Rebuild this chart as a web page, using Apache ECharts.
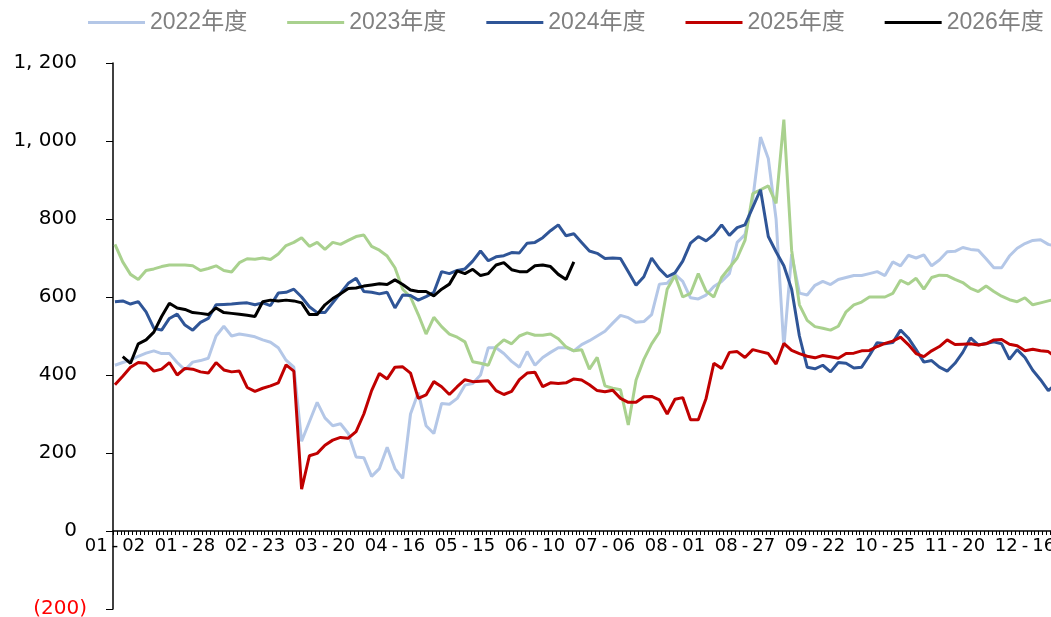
<!DOCTYPE html>
<html>
<head>
<meta charset="utf-8">
<title>年度对比</title>
<script src="https://cdn.jsdelivr.net/npm/echarts@6/dist/echarts.min.js"></script>
<style>
  html, body { margin: 0; padding: 0; background: #fff; }
  #chart { width: 1051px; height: 617px; }
</style>
</head>
<body>
<div id="chart"></div>
<script>
// x 轴刻度标签（每 18 个交易日一个），之后补到年末
var tickLabels = ['01-02', '01-28', '02-23', '03-20', '04-16', '05-15', '06-10',
  '07-06', '08-01', '08-27', '09-22', '10-25', '11-20', '12-16'];
var yearEnd = '12-31';
var STEP = 18;      // 每个标签之间的交易日数
var DAYS = 246;     // 类目总数
// 下面的数值每两个交易日读一个
var y2022 = [425, 432, 438, 448, 456, 462, 455, 455, 432, 413, 433, 437, 443, 500, 525, 500, 505, 502, 498, 490,
  484, 470, 438, 420, 230, 280, 330, 290, 270, 275, 250, 190, 188, 140, 160, 215, 160, 135, 300, 355,
  270, 250, 327, 325, 340, 374, 378, 400, 470, 470, 455, 435, 420, 460, 425, 445, 458, 470, 470, 462,
  478, 488, 500, 512, 533, 553, 547, 535, 537, 555, 633, 635, 658, 640, 598, 595, 605, 627, 640, 660,
  740, 760, 850, 1010, 955, 800, 470, 710, 610, 605, 630, 640, 632, 645, 650, 655, 655, 660, 665, 655,
  690, 680, 707, 700, 708, 680, 695, 716, 717, 727, 722, 720, 698, 675, 675, 705, 725, 737, 745, 747,
  735, 730];
var y2023 = [735, 690, 658, 645, 668, 672, 678, 682, 682, 682, 680, 668, 673, 680, 668, 664, 688, 698, 697, 700,
  696, 710, 732, 740, 752, 730, 740, 722, 740, 735, 745, 755, 759, 730, 720, 705, 675, 620, 600, 555,
  505, 548, 524, 505, 497, 485, 434, 430, 425, 473, 490, 480, 500, 508, 502, 502, 505, 493, 472, 462,
  465, 415, 445, 372, 366, 362, 272, 387, 440, 480, 510, 620, 655, 600, 609, 660, 615, 600, 650, 675,
  700, 745, 865, 875, 885, 840, 1055, 720, 580, 540, 524, 520, 515, 525, 562, 580, 587, 600, 600, 600,
  609, 643, 633, 648, 620, 650, 656, 655, 645, 637, 622, 614, 628, 614, 602, 593, 588, 598, 580, 585,
  590, 595];
var y2024 = [588, 590, 582, 588, 562, 520, 515, 545, 556, 528, 515, 535, 545, 580, 581, 582, 584, 585, 580, 585,
  578, 610, 612, 620, 600, 575, 560, 560, 585, 610, 635, 648, 614, 612, 608, 612, 572, 605, 604, 592,
  601, 612, 665, 660, 668, 672, 692, 718, 693, 703, 706, 714, 713, 738, 740, 752, 770, 785, 757, 762,
  740, 718, 712, 699, 700, 699, 665, 630, 652, 700, 672, 652, 662, 692, 738, 755, 744, 760, 785, 758,
  778, 785, 830, 875, 755, 716, 680, 620, 500, 420, 416, 425, 408, 432, 430, 418, 420, 450, 483, 480,
  483, 515, 495, 465, 433, 437, 420, 410, 430, 458, 495, 477, 481, 485, 480, 440, 465, 445, 412, 388,
  360, 378];
var y2025 = [375, 397, 420, 432, 430, 410, 415, 432, 400, 417, 415, 408, 405, 432, 413, 408, 410, 368, 358, 366,
  372, 380, 426, 410, 107, 193, 199, 220, 233, 240, 238, 255, 300, 360, 404, 390, 420, 421, 405, 340,
  349, 383, 370, 350, 370, 388, 383, 384, 385, 360, 350, 358, 388, 405, 407, 370, 380, 378, 380, 390,
  387, 375, 360, 357, 361, 340, 330, 330, 344, 345, 336, 300, 338, 342, 285, 285, 340, 430, 417, 458,
  460, 445, 465, 460, 455, 428, 481, 463, 455, 448, 444, 450, 447, 443, 455, 456, 462, 463, 473, 481,
  487, 497, 478, 455, 447, 462, 473, 490, 478, 479, 480, 477, 480, 490, 491, 479, 475, 462, 466, 462,
  460, 445];
var y2026 = [null, 447, 430, 480, 490, 510, 550, 584, 572, 568, 560, 558, 555, 572, 560, 558, 556, 553, 550, 588,
  592, 590, 592, 590, 585, 555, 555, 580, 596, 608, 622, 623, 628, 631, 634, 632, 644, 632, 618, 614,
  614, 603, 620, 633, 667, 660, 671, 655, 660, 682, 688, 670, 665, 665, 680, 682, 678, 658, 645, 690];

var Y_MIN = -200, Y_MAX = 1200;

function pad(n) { return (n < 10 ? '0' : '') + n; }

// 两个刻度标签之间按日期均分出中间的类目
function buildCategories() {
  var anchors = tickLabels.concat([yearEnd]).map(function (s) {
    var p = s.split('-');
    return Date.UTC(2021, +p[0] - 1, +p[1]);
  });
  var day = 86400000;
  var cats = [];
  for (var i = 0; i < DAYS; i++) {
    var k = Math.floor(i / STEP);
    var f = (i % STEP) / STEP;
    var a = anchors[k], b = anchors[Math.min(k + 1, anchors.length - 1)];
    var t = new Date(a + Math.round((b - a) * f / day) * day);
    cats.push(pad(t.getUTCMonth() + 1) + '-' + pad(t.getUTCDate()));
  }
  return cats;
}

// 读数放在偶数交易日上，中间留空并连线
function onEvenDays(arr) {
  var out = [];
  for (var i = 0; i < arr.length; i++) {
    out.push(arr[i]);
    if (i < arr.length - 1) out.push(null);
  }
  return out;
}

var categories = buildCategories();
var gridHeight = 546;
// x 轴放在 0 值处：从网格底部往上移
var zeroOffset = -gridHeight * (0 - Y_MIN) / (Y_MAX - Y_MIN);
var labelFont = "'DejaVu Sans', sans-serif";

var myChart = echarts.init(document.getElementById('chart'));

function line(name, data, color, z) {
  return {
    name: name,
    type: 'line',
    data: onEvenDays(data),
    connectNulls: true,
    symbol: 'none',
    showSymbol: false,
    z: z,
    lineStyle: { color: color, width: 3 },
    itemStyle: { color: color }
  };
}

myChart.setOption({
  animation: false,
  backgroundColor: '#fff',
  legend: {
    top: 6,
    left: 83,
    itemWidth: 57,
    itemHeight: 3,
    itemGap: 40,
    icon: 'rect',
    textStyle: {
      color: '#808080',
      fontSize: 23,
      fontFamily: "'Liberation Sans', 'Noto Sans CJK SC', sans-serif"
    },
    data: ['2022年度', '2023年度', '2024年度', '2025年度', '2026年度']
  },
  grid: {
    left: 113,
    top: 63,
    width: DAYS * 3.889,
    height: gridHeight,
    containLabel: false,
    outerBoundsMode: 'none'
  },
  xAxis: {
    type: 'category',
    data: categories,
    boundaryGap: true,
    position: 'bottom',
    offset: zeroOffset,
    axisLine: { onZero: false, lineStyle: { color: '#000', width: 1.5 } },
    axisTick: { show: true, interval: 0, length: 4, lineStyle: { color: '#000', width: 1 } },
    axisLabel: {
      interval: STEP - 1,
      margin: 6,
      formatter: function (v) {
        var p = v.split('-');
        return '{d|' + p[0] + '}{h|-}{d|' + p[1] + '}';
      },
      rich: {
        d: { color: '#000', fontSize: 18, fontFamily: labelFont },
        h: { color: '#000', fontSize: 18, fontFamily: labelFont, padding: [0, 4, 0, 4] }
      }
    },
    splitLine: { show: false }
  },
  yAxis: {
    type: 'value',
    min: Y_MIN,
    max: Y_MAX,
    interval: 200,
    axisLine: { show: true, lineStyle: { color: '#000', width: 1.5 } },
    axisTick: { show: true, length: 7, lineStyle: { color: '#000' } },
    splitLine: { show: false },
    axisLabel: {
      margin: 26,
      formatter: function (v) {
        if (v < 0) return '{n|(' + Math.abs(v) + ')}';
        if (v >= 1000) {
          var r = String(v % 1000);
          while (r.length < 3) r = '0' + r;
          return '{p|' + Math.floor(v / 1000) + ', ' + r + '}';
        }
        return '{p|' + v + '}';
      },
      rich: {
        p: { color: '#000', fontSize: 20, fontFamily: labelFont, padding: [0, 10, 0, 0] },
        n: { color: '#ff0000', fontSize: 20, fontFamily: labelFont }
      }
    }
  },
  series: [
    line('2022年度', y2022, '#b4c7e7', 1),
    line('2023年度', y2023, '#a9d18e', 2),
    line('2024年度', y2024, '#2f5597', 3),
    line('2025年度', y2025, '#c00000', 4),
    line('2026年度', y2026, '#000000', 5)
  ]
});

window.addEventListener('resize', function () {
  myChart.resize();
});
</script>
</body>
</html>
